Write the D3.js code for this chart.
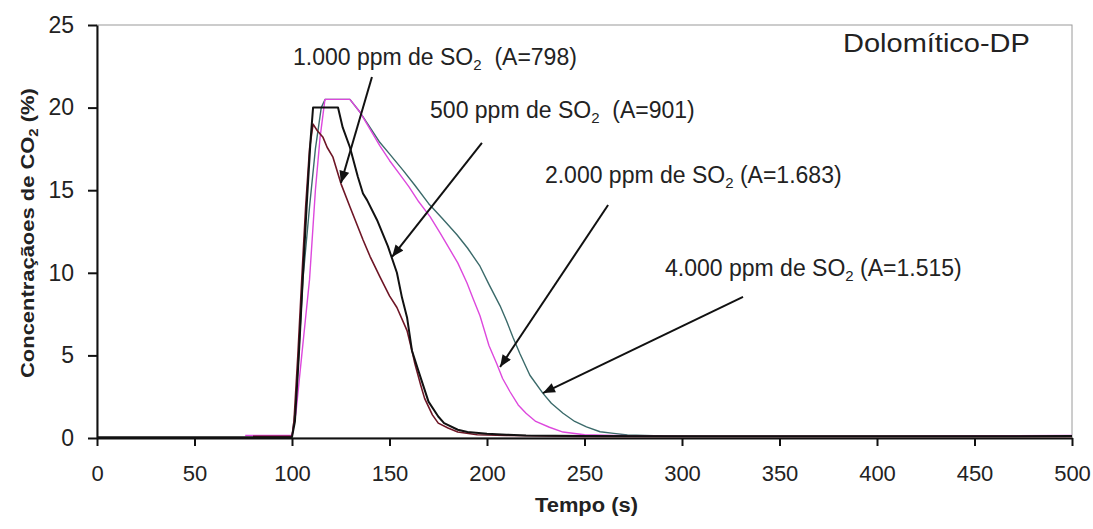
<!DOCTYPE html>
<html>
<head>
<meta charset="utf-8">
<script src="https://cdn.jsdelivr.net/npm/d3@7"></script>
<style>
  body { margin: 0; background: #fff; }
  svg { display: block; font-family: "Liberation Sans", Arial, sans-serif; }
</style>
</head>
<body>
<div id="chart"></div>
<script>
// CO2 concentration curves, Dolomitico-DP, one series per SO2 level
const xTicks = [0, 50, 100, 150, 200, 250, 300, 350, 400, 450, 500];
const yTicks = [0, 5, 10, 15, 20, 25];

// 500 ppm (A=901) - black
const time500 = [0, 10, 20, 30, 40, 50, 60, 70, 80, 90, 100, 101.5, 103.5, 105.5, 107.5, 109.5, 110.8, 123.6, 126, 129.7, 133.8, 136.4, 138.5, 143.6, 149.2, 153.8, 156.4, 159, 160.5, 161.5, 165, 170, 175, 178, 185, 190, 200, 210, 220, 250, 300, 350, 400, 450, 500];
const co2_500 = [0.05, 0.05, 0.05, 0.05, 0.05, 0.05, 0.05, 0.05, 0.05, 0.05, 0.05, 1, 5, 9.6, 14, 18, 20, 20, 18.8, 17.6, 15.8, 14.8, 14.4, 13.2, 11.6, 10, 8.5, 7.3, 6.1, 5.3, 4.0, 2.2, 1.3, 0.9, 0.5, 0.36, 0.25, 0.2, 0.15, 0.12, 0.1, 0.1, 0.1, 0.1, 0.12];

// 1.000 ppm (A=798) - dark red
const time1000 = [80, 90, 100, 101, 103, 105, 107, 109, 110.8, 113, 115.9, 118, 121, 125.1, 129.7, 136.4, 140, 145.1, 150, 153.8, 159, 161.5, 163, 166, 168, 172, 175, 180, 185, 195, 210, 250, 300, 400, 500];
const co2_1000 = [0.1, 0.1, 0.1, 1, 5, 9.6, 14, 17.5, 19, 18.6, 18.2, 17.6, 17, 15.4, 14, 12, 11, 9.75, 8.6, 7.9, 6.5, 5.3, 4.5, 3.2, 2.4, 1.4, 0.9, 0.6, 0.36, 0.2, 0.15, 0.1, 0.1, 0.1, 0.1];

// 2.000 ppm (A=1.683) - magenta
const time2000 = [76, 90, 100, 102, 105, 109, 112, 114.4, 116.9, 129.7, 135, 140, 145, 150, 155, 160, 165, 170.8, 176, 181, 185, 189.7, 193, 196.4, 201, 205, 208, 211.8, 216, 220, 225, 232, 239, 250, 265, 280, 300, 400, 500];
const co2_2000 = [0.15, 0.15, 0.15, 1.5, 5, 9.6, 15, 18.2, 20.5, 20.5, 19.7, 18.7, 17.7, 16.8, 16, 15.2, 14.3, 13.4, 12.4, 11.4, 10.6, 9.4, 8.4, 7.4, 5.6, 4.5, 3.6, 2.8, 2.0, 1.5, 1.0, 0.65, 0.36, 0.2, 0.15, 0.12, 0.1, 0.1, 0.15];

// 4.000 ppm (A=1.515) - dark teal
const time4000 = [100, 102, 105.6, 109, 112, 115, 117, 129.7, 135, 140, 145, 150, 157, 163, 170, 177, 184.6, 190, 196.4, 201, 206.7, 210, 213.3, 216.9, 222, 228.7, 233, 239, 245, 251, 258, 265, 272, 290, 320, 400, 500];
const co2_4000 = [0.1, 2, 9.6, 14, 17.5, 20, 20.5, 20.5, 19.7, 18.8, 17.9, 17.2, 16.2, 15.3, 14.2, 13.3, 12.3, 11.5, 10.4, 9.3, 8.0, 7.1, 6.1, 5.1, 3.8, 2.7, 2.1, 1.5, 1.0, 0.67, 0.38, 0.28, 0.18, 0.12, 0.1, 0.1, 0.12];

// labels: [text before subscript, text after subscript]
const labelHead = ['1.000 ppm de SO', '500 ppm de SO', '2.000 ppm de SO', '4.000 ppm de SO'];
const labelTail = ['  (A=798)', '  (A=901)', ' (A=1.683)', ' (A=1.515)'];

// ---- layout (not data) ----
const W = 1093, H = 529;
const margin = { top: 25, right: 21, bottom: 91, left: 97 };
const seriesStyle = [
  { color: '#3b6a6a', width: 1.4 },  // 4000
  { color: '#dd48dd', width: 1.4 },  // 2000
  { color: '#6e1626', width: 1.6 },  // 1000
  { color: '#111111', width: 2.0 },  // 500
];
// annotation placement in data units: label start, arrow start, arrow tip
const labelAt = [[100.5, 22.6], [170.8, 19.4], [229.7, 15.45], [291.3, 9.8]];
const arrowFrom = [[141, 21.85], [197.4, 17.86], [262.1, 14.1], [331.3, 8.54]];
const arrowTo = [[125.1, 15.44], [151.3, 10.96], [206.7, 4.3], [228.7, 2.72]];

const svg = d3.select('#chart').append('svg')
  .attr('width', W)
  .attr('height', H);

svg.append('rect').attr('width', W).attr('height', H).attr('fill', '#fff');

const x = d3.scaleLinear().domain([0, 500]).range([margin.left, W - margin.right]);
const y = d3.scaleLinear().domain([0, 25]).range([H - margin.bottom, margin.top]);

// squeeze / stretch text horizontally to a target width
const fitWidth = (sel, px, py, target) => {
  const w = sel.node().getComputedTextLength();
  sel.attr('transform', `translate(${px},${py}) scale(${target / w},1)`);
};

// plot border (thin grey)
svg.append('rect')
  .attr('x', x(0)).attr('y', y(25))
  .attr('width', x(500) - x(0)).attr('height', y(0) - y(25))
  .attr('fill', 'none').attr('stroke', '#9a9a9a').attr('stroke-width', 1);

// x axis
const xAxis = svg.append('g')
  .attr('transform', `translate(0,${y(0)})`)
  .call(d3.axisBottom(x).tickValues(xTicks).tickSizeInner(8).tickSizeOuter(0).tickPadding(19));
xAxis.select('.domain').attr('stroke', '#111').attr('stroke-width', 2);
xAxis.selectAll('.tick line').attr('stroke', '#111').attr('stroke-width', 2);
xAxis.selectAll('.tick text').attr('font-size', 22).attr('fill', '#222')
  .attr('font-family', '"Liberation Sans", Arial, sans-serif');

// y axis
const yAxis = svg.append('g')
  .attr('transform', `translate(${x(0)},0)`)
  .call(d3.axisLeft(y).tickValues(yTicks).tickSizeInner(9).tickSizeOuter(0).tickPadding(14));
yAxis.select('.domain').attr('stroke', '#111').attr('stroke-width', 2);
yAxis.selectAll('.tick line').attr('stroke', '#111').attr('stroke-width', 2);
yAxis.selectAll('.tick text').attr('font-size', 23).attr('fill', '#222')
  .attr('font-family', '"Liberation Sans", Arial, sans-serif');

// series
const series = [
  d3.zip(time4000, co2_4000),
  d3.zip(time2000, co2_2000),
  d3.zip(time1000, co2_1000),
  d3.zip(time500, co2_500),
];
const line = d3.line().x(d => x(d[0])).y(d => y(d[1]));

svg.append('g').selectAll('path')
  .data(series)
  .enter().append('path')
    .attr('d', line)
    .attr('fill', 'none')
    .attr('stroke', (d, i) => seriesStyle[i].color)
    .attr('stroke-width', (d, i) => seriesStyle[i].width)
    .attr('stroke-linejoin', 'round');

// arrow head marker
svg.append('defs').append('marker')
  .attr('id', 'head')
  .attr('markerUnits', 'userSpaceOnUse')
  .attr('viewBox', '0 0 12 10')
  .attr('refX', 12).attr('refY', 5)
  .attr('markerWidth', 13).attr('markerHeight', 10)
  .attr('orient', 'auto')
  .append('path')
    .attr('d', 'M0,0 L12,5 L0,10 Z')
    .attr('fill', '#111');

svg.append('g').selectAll('line')
  .data(arrowFrom)
  .enter().append('line')
    .attr('x1', d => x(d[0])).attr('y1', d => y(d[1]))
    .attr('x2', (d, i) => x(arrowTo[i][0])).attr('y2', (d, i) => y(arrowTo[i][1]))
    .attr('stroke', '#111').attr('stroke-width', 2)
    .attr('marker-end', 'url(#head)');

// annotation labels
labelHead.forEach((head, i) => {
  const t = svg.append('text')
    .attr('x', x(labelAt[i][0])).attr('y', y(labelAt[i][1]))
    .attr('font-size', 23).attr('fill', '#222')
    .style('white-space', 'pre');
  t.append('tspan').text(head);
  t.append('tspan').attr('font-size', 15).attr('dy', 5).text('2');
  t.append('tspan').attr('dy', -5).text(labelTail[i]);
});

// title in the corner
const title = svg.append('text')
  .attr('font-size', 25).attr('fill', '#222')
  .text('Dolomítico-DP');
fitWidth(title, 843, 52, 187);

// axis titles
const xt = svg.append('text')
  .attr('font-size', 21).attr('font-weight', 'bold').attr('fill', '#222')
  .text('Tempo (s)');
fitWidth(xt, 535, 512, 103);

const yt = svg.append('text')
  .attr('font-size', 19).attr('font-weight', 'bold').attr('fill', '#222');
yt.append('tspan').text('Concentraçãoes de CO');
yt.append('tspan').attr('font-size', 13).attr('dy', 4).text('2');
yt.append('tspan').attr('dy', -4).text(' (%)');
const ytw = yt.node().getComputedTextLength();
yt.attr('transform', `translate(34,378) rotate(-90) scale(${290 / ytw},1)`);
</script>
</body>
</html>
